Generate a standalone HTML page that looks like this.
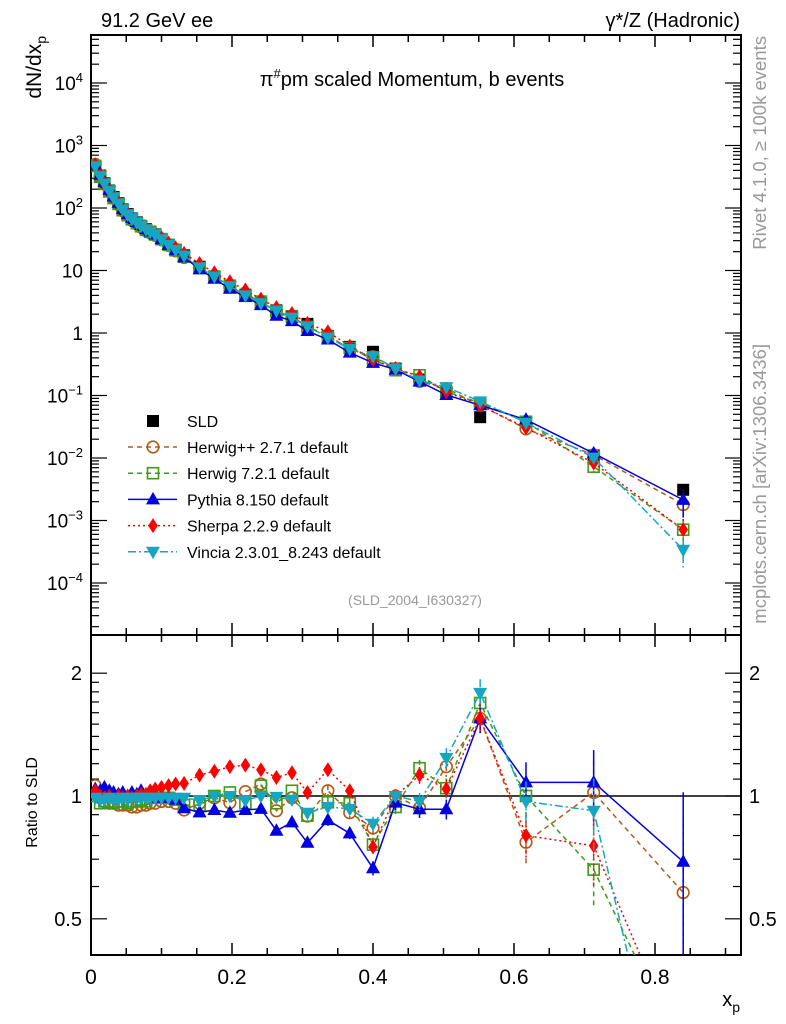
<!DOCTYPE html>
<html><head><meta charset="utf-8"><style>
html,body{margin:0;padding:0;background:#fff;width:786px;height:1024px;overflow:hidden;}
svg{display:block;font-family:"Liberation Sans",sans-serif;overflow:hidden;}
</style></head><body>
<svg id="c" width="786" height="1024" viewBox="0 0 786 1024"></svg>
<script>
const xs=[0.006,0.013,0.019,0.026,0.032,0.039,0.045,0.052,0.058,0.065,0.071,0.078,0.084,0.091,0.1,0.11,0.12,0.132,0.154,0.175,0.197,0.219,0.241,0.263,0.285,0.307,0.336,0.367,0.4,0.432,0.466,0.504,0.552,0.617,0.713,0.84];
const sld=[470,330,250,190,150,120,95,80,68,59,52,46,42,38,32,26,21.5,17.5,11.5,8,5.6,4.1,3.0,2.3,1.8,1.4,0.9,0.6,0.5,0.27,0.18,0.11,0.045,0.038,0.011,0.0031];
const relErr=[.02,.02,.02,.02,.02,.02,.02,.02,.02,.02,.02,.02,.02,.02,.02,.02,.02,.02,.02,.02,.02,.02,.02,.02,.03,.03,.04,.04,.05,.05,.06,.07,.1,.15,.25,.6];
const rHerwigpp=[1.06,0.99,0.97,0.96,0.96,0.95,0.95,0.95,0.94,0.94,0.95,0.95,0.96,0.96,0.97,0.97,0.96,0.924,0.96,0.99,0.963,1.025,1.07,0.92,0.99,0.893,1.03,0.91,0.835,1.0,0.935,1.18,1.55,0.77,1.02,0.58];
const rHerwig7=[1.0,0.96,0.97,0.97,0.96,0.97,0.97,0.96,0.97,0.97,0.98,0.97,0.99,0.99,0.99,0.99,0.98,0.95,0.95,1.0,1.02,0.96,1.06,0.96,1.03,0.895,0.965,0.96,0.76,0.94,1.17,1.045,1.69,1.0,0.66,0.23];
const rPythia=[1.04,1.03,1.05,1.03,1.02,1.01,1.02,1.0,1.02,1.01,1.03,1.0,1.0,0.99,0.99,0.99,0.98,0.933,0.912,0.924,0.91,0.924,0.93,0.822,0.862,0.768,0.873,0.81,0.665,0.963,0.928,0.928,1.55,1.08,1.08,0.69];
const rSherpa=[1.03,1.0,0.99,1.0,0.98,1.0,0.99,1.0,0.99,1.0,1.01,1.01,1.03,1.04,1.05,1.06,1.07,1.074,1.125,1.15,1.18,1.19,1.16,1.11,1.14,1.02,1.16,1.03,0.75,1.0,1.125,1.04,1.55,0.8,0.755,0.23];
const rVincia=[0.99,0.98,0.98,0.99,0.98,0.98,0.99,0.98,0.99,0.99,0.99,0.99,0.99,0.99,0.99,0.99,0.99,0.99,0.975,1.0,1.0,0.975,1.0,0.995,0.98,0.91,0.94,0.93,0.855,1.0,0.97,1.24,1.79,0.97,0.92,0.11];
const xTicks=[0,0.2,0.4,0.6,0.8];
const xTickLabels=["0","0.2","0.4","0.6","0.8"];

const NS="http://www.w3.org/2000/svg",svg=document.getElementById('c');
function el(t,a,p){const e=document.createElementNS(NS,t);for(const k in a)e.setAttribute(k,a[k]);(p||svg).appendChild(e);return e;}
const L=91,R=741,T=35,MB=635,RB=955;
const X=v=>L+v*705;
const YM=v=>333-Math.log10(v)*62.5;
const YR=v=>796-Math.log10(v)*408;

const defs=el('defs',{});
const c1=el('clipPath',{id:'cm'},defs);el('rect',{x:L,y:T,width:R-L,height:MB-T},c1);
const c2=el('clipPath',{id:'cr'},defs);el('rect',{x:L,y:MB,width:R-L,height:RB-MB},c2);

function txt(s,x,y,a,p){const t=el('text',Object.assign({x:x,y:y},a),p);t.textContent=s;return t;}

let f=el('rect',{x:L,y:T,width:R-L,height:MB-T,fill:'none',stroke:'#000','stroke-width':2});


f=el('rect',{x:L,y:MB,width:R-L,height:RB-MB,fill:'none',stroke:'#000','stroke-width':2});



for(let v=0;v<=0.92;v+=0.05){const big=Math.abs(v*10-Math.round(v*10))<1e-6&&Math.round(v*10)%2==0;const l=big?12:7;
 [[T,1],[MB,-1],[MB,1],[RB,-1]].forEach(([y,d])=>el('line',{x1:X(v),x2:X(v),y1:y,y2:y+d*l,stroke:'#000','stroke-width':1.5}));}
xTicks.forEach((v,i)=>{const t=txt(xTickLabels[i],X(v),984,{'font-size':21,'text-anchor':'middle'});

});

for(let d=-5;d<=4;d++){for(let m=1;m<10;m++){const v=m*Math.pow(10,d);const y=YM(v);if(y<T||y>MB)continue;const l=m==1?16:8;
 el('line',{x1:L,x2:L+l,y1:y,y2:y,stroke:'#000','stroke-width':1.2});el('line',{x1:R,x2:R-l,y1:y,y2:y,stroke:'#000','stroke-width':1.2});}}
const mLabels=[[4,'10','4'],[3,'10','3'],[2,'10','2'],[1,'10',''],[0,'1',''],[-1,'10','−1'],[-2,'10','−2'],[-3,'10','−3'],[-4,'10','−4']];
mLabels.forEach(([d,b,s])=>{const y=YM(Math.pow(10,d))+7;
 const t=el('text',{x:83,y:y,'font-size':19,'text-anchor':'end'});
 if(s){t.textContent=b;const ts=el('tspan',{dy:-8,'font-size':13},t);ts.textContent=s;}else t.textContent=b;});

const rt=[0.5,0.6,0.7,0.8,0.9,1,1.1,1.2,1.3,1.4,1.5,1.6,1.7,1.8,1.9,2];
rt.forEach(v=>{const y=YR(v);const l=(v==0.5||v==1||v==2)?16:8;
 el('line',{x1:L,x2:L+l,y1:y,y2:y,stroke:'#000','stroke-width':1.2});el('line',{x1:R,x2:R-l,y1:y,y2:y,stroke:'#000','stroke-width':1.2});});
[[2,'2'],[1,'1'],[0.5,'0.5']].forEach(([v,s])=>{
 let t=txt(s,82,YR(v)+7,{'font-size':20,'text-anchor':'end'});
 t=txt(s,749,YR(v)+7,{'font-size':20});});
el('line',{x1:L,x2:R,y1:YR(1),y2:YR(1),stroke:'#000','stroke-width':1.5});

let t=txt('91.2 GeV ee',101,27,{'font-size':20});
t=txt('γ*/Z (Hadronic)',740,27,{'font-size':20,'text-anchor':'end'});
t=el('text',{x:412,y:86,'font-size':20,'text-anchor':'middle'});t.innerHTML='π<tspan dy="-8" font-size="13">#</tspan><tspan dy="8">pm scaled Momentum, b events</tspan>';

t=txt('(SLD_2004_I630327)',415,605,{'font-size':14,'text-anchor':'middle',fill:'#999'});
t=el('text',{x:0,y:0,'font-size':21,'text-anchor':'end',transform:'translate(41,36) rotate(-90)'});t.innerHTML='dN/dx<tspan dy="5" font-size="14">p</tspan>';

t=txt('Ratio to SLD',0,0,{'font-size':16,'text-anchor':'end',transform:'translate(37,757) rotate(-90)'});
t=el('text',{x:740,y:1006,'font-size':20,'text-anchor':'end'});t.innerHTML='x<tspan dy="6" font-size="14">p</tspan>';

t=txt('Rivet 4.1.0, ≥ 100k events',0,0,{'font-size':18.5,fill:'#999','text-anchor':'end',transform:'translate(766,36) rotate(-90)'});
t=txt('mcplots.cern.ch [arXiv:1306.3436]',0,0,{'font-size':18.5,fill:'#999','text-anchor':'end',transform:'translate(766,344) rotate(-90)'});

function marker(g,type,x,y,col){
 if(type=='sq')return el('rect',{x:x-6,y:y-6,width:12,height:12,fill:'#000'},g);
 if(type=='circ')return el('circle',{cx:x,cy:y,r:5.8,fill:'none',stroke:col,'stroke-width':1.6},g);
 if(type=='osq')return el('rect',{x:x-5.5,y:y-5.5,width:11,height:11,fill:'none',stroke:col,'stroke-width':1.6},g);
 if(type=='tri')return el('polygon',{points:`${x},${y-7.5} ${x-7},${y+5} ${x+7},${y+5}`,fill:col},g);
 if(type=='dia')return el('polygon',{points:`${x},${y-7.5} ${x-4.8},${y} ${x},${y+7.5} ${x+4.8},${y}`,fill:col},g);
 if(type=='itri')return el('polygon',{points:`${x},${y+7.5} ${x-7},${y-5} ${x+7},${y-5}`,fill:col},g);
}
const models=[
 {n:'herwigpp',r:rHerwigpp,c:'#b35b16',d:'5,4',m:'circ',label:'Herwig++ 2.7.1 default'},
 {n:'herwig7',r:rHerwig7,c:'#3f9a14',d:'5,4',m:'osq',label:'Herwig 7.2.1 default'},
 {n:'pythia',r:rPythia,c:'#0000e0',d:'',m:'tri',label:'Pythia 8.150 default'},
 {n:'sherpa',r:rSherpa,c:'#ff0000',d:'2,3',m:'dia',label:'Sherpa 2.2.9 default'},
 {n:'vincia',r:rVincia,c:'#17a6c2',d:'8,3,2,3',m:'itri',label:'Vincia 2.3.01_8.243 default'}];

const gd=el('g',{'clip-path':'url(#cm)'});


xs.forEach((x,i)=>{const m=marker(gd,'sq',X(x),YM(sld[i]));
 
 });

const YLIM=RB+20;
function clipPts(p){ // cut polyline where it leaves below YLIM
 const out=[p[0]];
 for(let k=1;k<p.length;k++){const a=p[k-1],b=p[k];
  if(b[1]<=YLIM){out.push(b);continue;}
  if(a[1]<=YLIM){const s=(YLIM-a[1])/(b[1]-a[1]);out.push([a[0]+s*(b[0]-a[0]),YLIM]);}
  break;}
 return out;}

models.forEach(mo=>{
 ['main','ratio'].forEach(panel=>{
  const g=el('g',{'clip-path':panel=='main'?'url(#cm)':'url(#cr)'});
  
  
  const F=panel=='main'?YM:YR;
  const vals=xs.map((x,i)=>panel=='main'?sld[i]*mo.r[i]:mo.r[i]);
  let p=xs.map((x,i)=>[X(x),F(vals[i])]);
  if(panel=='ratio')p=clipPts(p);
  el('polyline',{points:p.map(q=>q[0]+','+q[1]).join(' '),fill:'none',stroke:mo.c,'stroke-width':1.5,'stroke-dasharray':mo.d},g);
  xs.forEach((x,i)=>{
   const v=vals[i];const e=relErr[i]*0.8;const y=F(v);
   if(panel=='ratio'&&y>YLIM)return;
   if(e>0.03){let y1=F(v*(1+e)),y2=F(Math.max(v*(1-e),1e-6));
    if(panel=='ratio')y2=Math.min(y2,YLIM);
    el('line',{x1:X(x),x2:X(x),y1:y1,y2:y2,stroke:mo.c,'stroke-width':1.5,'stroke-dasharray':mo.d},g);}
   const mk=marker(g,mo.m,X(x),y,mo.c);
   
   
  });
 });
});

const lg=el('g',{});


let ly=421;
let e0=el('g',{},lg);
marker(e0,'sq',153,ly);txt('SLD',187,ly+6,{'font-size':16},e0);
models.forEach((mo,k)=>{const y=447+k*26.2;const g=el('g',{},lg);
 
 
 el('line',{x1:128,x2:177,y1:y,y2:y,stroke:mo.c,'stroke-width':1.5,'stroke-dasharray':mo.d},g);
 marker(g,mo.m,153,y,mo.c);txt(mo.label,187,y+6,{'font-size':16},g);});
</script>
</body></html>
